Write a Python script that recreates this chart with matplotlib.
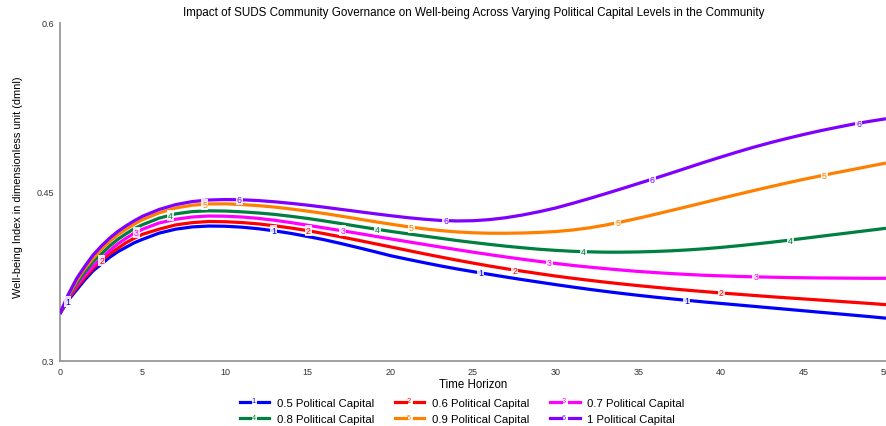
import matplotlib
matplotlib.use("Agg")
import matplotlib.pyplot as plt
import numpy as np
from matplotlib.lines import Line2D
from matplotlib.text import Text
from matplotlib.legend_handler import HandlerBase

plt.rcParams['font.family'] = ['Liberation Sans', 'DejaVu Sans']

# Simulation time at which each series is sampled
time = [0, 0.5, 1, 1.5, 2, 2.5, 3, 3.5, 4, 4.5] + list(range(5, 51))

wb_pc05 = [0.342, 0.354, 0.363, 0.372, 0.380, 0.386, 0.392, 0.397, 0.401, 0.405,
           0.408, 0.4135, 0.417, 0.419, 0.4198, 0.4196, 0.4188, 0.4174, 0.4155, 0.4132,
           0.4105, 0.4076, 0.4043, 0.4008, 0.3972, 0.3935, 0.3904, 0.3874, 0.3845, 0.3818,
           0.3793, 0.3769, 0.3745, 0.3722, 0.3700, 0.3678, 0.3657, 0.3637, 0.3618, 0.3600,
           0.3583, 0.3567, 0.3552, 0.3538, 0.3524, 0.3511, 0.3498, 0.3485, 0.3472, 0.3459,
           0.3446, 0.3433, 0.3420, 0.3407, 0.3394, 0.3380]
wb_pc06 = [0.342, 0.355, 0.365, 0.374, 0.382, 0.389, 0.395, 0.400, 0.405, 0.409,
           0.4125, 0.417, 0.4208, 0.4228, 0.4238, 0.4236, 0.4229, 0.4217, 0.4200, 0.4180,
           0.4157, 0.4130, 0.4102, 0.4073, 0.4043, 0.4013, 0.3983, 0.3953, 0.3924, 0.3896,
           0.3869, 0.3843, 0.3819, 0.3797, 0.3775, 0.3754, 0.3735, 0.3717, 0.3700, 0.3684,
           0.3669, 0.3655, 0.3641, 0.3628, 0.3616, 0.3604, 0.3593, 0.3582, 0.3571, 0.3561,
           0.3551, 0.3541, 0.3531, 0.3521, 0.3511, 0.3500]
wb_pc07 = [0.342, 0.356, 0.367, 0.376, 0.384, 0.391, 0.398, 0.404, 0.409, 0.4135,
           0.417, 0.4225, 0.4258, 0.4278, 0.4287, 0.4285, 0.4278, 0.4266, 0.4249, 0.4228,
           0.4205, 0.4181, 0.4158, 0.4134, 0.4109, 0.4084, 0.4060, 0.4036, 0.4012, 0.3989,
           0.3966, 0.3944, 0.3923, 0.3903, 0.3884, 0.3866, 0.3849, 0.3834, 0.3820, 0.3807,
           0.3795, 0.3785, 0.3776, 0.3768, 0.3761, 0.3756, 0.3751, 0.3747, 0.3744, 0.3741,
           0.3739, 0.3737, 0.3736, 0.3735, 0.3734, 0.3734]
wb_pc08 = [0.342, 0.357, 0.369, 0.379, 0.388, 0.395, 0.402, 0.408, 0.413, 0.4175,
           0.421, 0.4268, 0.4306, 0.4326, 0.4333, 0.4331, 0.4324, 0.4314, 0.4301, 0.4284,
           0.4265, 0.4243, 0.4220, 0.4196, 0.4173, 0.4151, 0.4130, 0.4110, 0.4090, 0.4070,
           0.4052, 0.4035, 0.4019, 0.4005, 0.3992, 0.3982, 0.3974, 0.3969, 0.3966, 0.3966,
           0.3968, 0.3972, 0.3978, 0.3986, 0.3996, 0.4008, 0.4022, 0.4037, 0.4053, 0.4070,
           0.4088, 0.4106, 0.4124, 0.4142, 0.4160, 0.4178]
wb_pc09 = [0.342, 0.358, 0.371, 0.382, 0.391, 0.399, 0.406, 0.412, 0.417, 0.4215,
           0.4255, 0.4315, 0.4358, 0.4383, 0.4394, 0.4395, 0.4389, 0.4379, 0.4366, 0.4349,
           0.4330, 0.4309, 0.4286, 0.4262, 0.4238, 0.4215, 0.4193, 0.4174, 0.4158, 0.4146,
           0.4138, 0.4134, 0.4134, 0.4136, 0.4141, 0.4149, 0.4162, 0.4181, 0.4206, 0.4235,
           0.4267, 0.4301, 0.4336, 0.4371, 0.4407, 0.4443, 0.4478, 0.4513, 0.4547, 0.4580,
           0.4612, 0.4642, 0.4672, 0.4700, 0.4729, 0.4757]
wb_pc10 = [0.342, 0.359, 0.373, 0.384, 0.394, 0.402, 0.409, 0.415, 0.420, 0.4245,
           0.4285, 0.4345, 0.4388, 0.4415, 0.4429, 0.4433, 0.4431, 0.4424, 0.4413, 0.4399,
           0.4383, 0.4365, 0.4346, 0.4327, 0.4308, 0.4290, 0.4273, 0.4259, 0.4248, 0.4243,
           0.4245, 0.4255, 0.4272, 0.4296, 0.4325, 0.4358, 0.4398, 0.4440, 0.4484, 0.4529,
           0.4575, 0.4621, 0.4668, 0.4716, 0.4764, 0.4810, 0.4855, 0.4898, 0.4938, 0.4975,
           0.5010, 0.5043, 0.5073, 0.5102, 0.5127, 0.5150]

series = [wb_pc05, wb_pc06, wb_pc07, wb_pc08, wb_pc09, wb_pc10]
series_names = ["0.5 Political Capital", "0.6 Political Capital", "0.7 Political Capital",
                "0.8 Political Capital", "0.9 Political Capital", "1 Political Capital"]
colors = ["#0000FF", "#FF0000", "#FF00FF", "#008040", "#FF8000", "#8000FF"]

x_ticks = [0, 5, 10, 15, 20, 25, 30, 35, 40, 45, 50]
y_ticks = [0.3, 0.45, 0.6]
y_tick_labels = ["0.3", "0.45", "0.6"]

W, H = 886, 427
fig = plt.figure(figsize=(W / 100, H / 100), dpi=100)
ax = fig.add_axes([60 / W, 1 - 362 / H, (886 - 60) / W, (362 - 24) / H])

t = np.array(time)
for i, (vals, c, name) in enumerate(zip(series, colors, series_names)):
    v = np.array(vals)
    ax.plot(t, v, color=c, lw=2.3, solid_capstyle='butt', solid_joinstyle='round',
            zorder=2 + i, label=name)
    # numbered markers along each run, staggered between series
    for tl in np.arange(0.45 + 2.08 * i, 50, 12.5):
        yl = np.interp(tl, t, v)
        ax.text(tl, yl, str(i + 1), color=c, fontsize=6.3, ha='center', va='center',
                zorder=10 + i,
                bbox=dict(boxstyle='square,pad=0.12', fc='white', ec='none', alpha=0.85))

ax.set_xlim(0, 50)
ax.set_ylim(0.3, 0.6)
ax.set_xticks(x_ticks)
ax.set_xticklabels([str(v) for v in x_ticks])
ax.set_yticks(y_ticks)
ax.set_yticklabels(y_tick_labels)
ax.tick_params(length=0, labelsize=6.5, colors='#333333', pad=4)
for s in ['top', 'right']:
    ax.spines[s].set_visible(False)
for s in ['left', 'bottom']:
    ax.spines[s].set_color('#999999')
    ax.spines[s].set_linewidth(1.3)

ax.set_xlabel("Time Horizon", fontsize=8.3, labelpad=1.5)
ax.set_ylabel("Well-being Index in dimensionless unit (dmnl)", fontsize=7.9)
ax.yaxis.set_label_coords((23 - 60) / 826, (362 - 187) / 338)
fig.text(474 / W, 1 - 13 / H,
         "Impact of SUDS Community Governance on Well-being Across Varying Political Capital Levels in the Community",
         fontsize=8.4, ha='center', va='center')


class NumberedLineHandler(HandlerBase):
    def __init__(self, tag, **kw):
        super().__init__(**kw)
        self.tag = tag

    def create_artists(self, legend, orig_handle, xdescent, ydescent, width, height, fontsize, trans):
        c = orig_handle.get_color()
        y = height / 2 - ydescent
        x0 = -xdescent
        seg = width * 0.36
        l1 = Line2D([x0, x0 + seg], [y, y], color=c, lw=2.3, transform=trans)
        l2 = Line2D([x0 + width - seg, x0 + width], [y, y], color=c, lw=2.3, transform=trans)
        tx = Text(x0 + width * 0.47, y + height * 0.15, self.tag, color=c, fontsize=fontsize * 0.65,
                  ha='center', va='center', transform=trans)
        return [l1, l2, tx]


handles, labels = ax.get_legend_handles_labels()
hmap = {h: NumberedLineHandler(str(k + 1)) for k, h in enumerate(handles)}
# row-major order: three entries per row
order = [0, 3, 1, 4, 2, 5]
fig.legend([handles[k] for k in order], [labels[k] for k in order], handler_map=hmap,
           loc='upper center', ncol=3,
           bbox_to_anchor=(462 / W, 1 - 399 / H), frameon=False, fontsize=8.2,
           handlelength=2.6, handletextpad=0.65, columnspacing=1.85, labelspacing=0.55,
           borderpad=0, borderaxespad=0)

fig.savefig("out.png", dpi=100)
